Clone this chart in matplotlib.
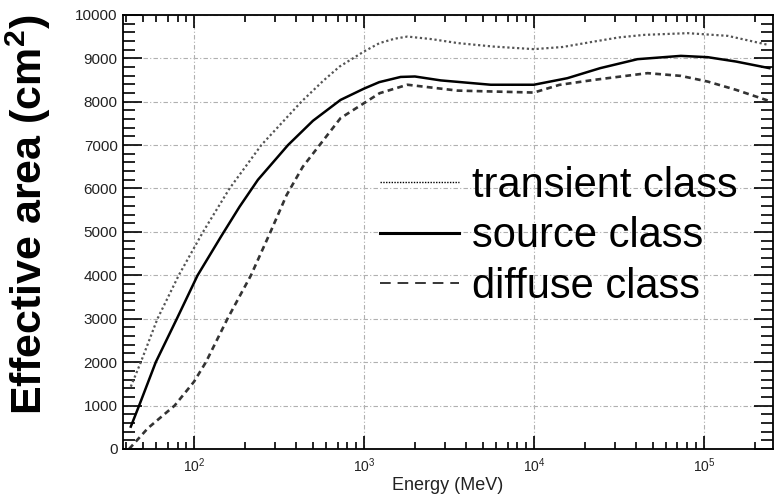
import matplotlib
matplotlib.use("Agg")
import matplotlib.pyplot as plt
from matplotlib.lines import Line2D
from matplotlib.ticker import MultipleLocator, LogLocator, NullFormatter

plt.rcParams['font.family'] = ['Liberation Sans', 'DejaVu Sans']
plt.rcParams['mathtext.fontset'] = 'custom'
plt.rcParams['mathtext.rm'] = 'Liberation Sans'
plt.rcParams['mathtext.bf'] = 'Liberation Sans:bold'

# values: log10(energy / MeV) and effective area in cm^2
transient_logE = [1.628, 1.687, 1.785, 1.91, 2.053, 2.209, 2.396, 2.632, 2.76, 2.857,
                  3.0, 3.092, 3.18, 3.256, 3.4, 3.551, 3.76, 4.0, 4.17, 4.354,
                  4.5, 4.65, 4.905, 5.141, 5.378]
transient_area = [1436, 2000, 3000, 4000, 5000, 6000, 7000, 8000, 8480, 8810,
                  9155, 9350, 9450, 9500, 9440, 9350, 9270, 9210, 9260, 9385,
                  9480, 9539, 9578, 9516, 9309]

source_logE = [1.628, 1.677, 1.775, 1.899, 2.021, 2.16, 2.268, 2.376, 2.553, 2.7,
               2.862, 3.0, 3.09, 3.216, 3.3, 3.452, 3.746, 4.0, 4.197, 4.39,
               4.61, 4.865, 5.023, 5.19, 5.386]
source_area = [514, 1000, 2000, 3000, 4000, 4900, 5580, 6200, 7000, 7560,
               8040, 8300, 8450, 8570, 8580, 8490, 8390, 8390, 8541, 8772,
               8979, 9055, 9025, 8924, 8772]

diffuse_logE = [1.618, 1.729, 1.886, 2.0, 2.07, 2.197, 2.335, 2.45, 2.545, 2.64,
                2.739, 2.862, 3.0, 3.092, 3.256, 3.551, 4.0, 4.15, 4.354, 4.669,
                4.865, 5.023, 5.19, 5.378]
diffuse_area = [0, 480, 1000, 1550, 2000, 3000, 4000, 5000, 5850, 6500,
                7000, 7620, 7965, 8195, 8390, 8255, 8210, 8387, 8502, 8657,
                8594, 8463, 8272, 8025]

labels = ["transient class", "source class", "diffuse class"]


def toE(logs):
  return [10 ** v for v in logs]


fig = plt.figure(figsize=(7.76, 4.95), dpi=100)
ax = fig.add_axes([0.158, 0.093, 0.838, 0.877])

ax.plot(toE(transient_logE), transient_area, color='#555555', lw=1.6,
        linestyle=(0, (1, 1.2)))
ax.plot(toE(source_logE), source_area, color='black', lw=1.8, linestyle='-')
ax.plot(toE(diffuse_logE), diffuse_area, color='#333333', lw=1.9,
        linestyle=(0, (2.2, 1.6)))

ax.set_xscale('log')
ax.set_xlim(38, 2.55e5)
ax.set_ylim(0, 10000)

ax.yaxis.set_major_locator(MultipleLocator(1000))
ax.yaxis.set_minor_locator(MultipleLocator(200))
ax.xaxis.set_major_locator(LogLocator(base=10))
ax.xaxis.set_minor_locator(LogLocator(base=10, subs=range(2, 10)))
ax.xaxis.set_minor_formatter(NullFormatter())

ax.grid(True, which='major', color='#b0b0b0', lw=0.8, linestyle=(0, (4, 2, 1, 2)))

ax.tick_params(axis='both', which='both', direction='in', top=True, right=True,
               colors='black', labelcolor='#222222', width=1.2)
ax.tick_params(axis='y', which='major', length=14, pad=3.5, labelsize=11)
ax.tick_params(axis='y', which='minor', length=8.5)
ax.tick_params(axis='x', which='major', length=9.5, pad=5, labelsize=10)
ax.tick_params(axis='x', which='minor', length=5)
for s in ax.spines.values():
  s.set_linewidth(1.3)

ax.set_xlabel("Energy (MeV)", fontsize=13, color='#222222', labelpad=2)
fig.text(0.036, 1 - 215 / 495, r"Effective area (cm$\mathbf{^2}$)", rotation=90,
         fontsize=31, fontweight='bold', ha='center', va='center')

# legend keys are drawn thinner than the curves in the original
handles = [Line2D([], [], color='black', lw=1.0, linestyle=(0, (1, 1))),
           Line2D([], [], color='black', lw=2.2, linestyle='-'),
           Line2D([], [], color='black', lw=1.1, linestyle=(0, (7, 4.5)))]
ax.legend(handles, labels, loc='center left', bbox_to_anchor=(0.396, 0.49),
          frameon=False, fontsize=30, handlelength=1.9, handletextpad=0.3,
          labelspacing=0.25, borderpad=0, borderaxespad=0)

fig.savefig("out.png", dpi=100)
